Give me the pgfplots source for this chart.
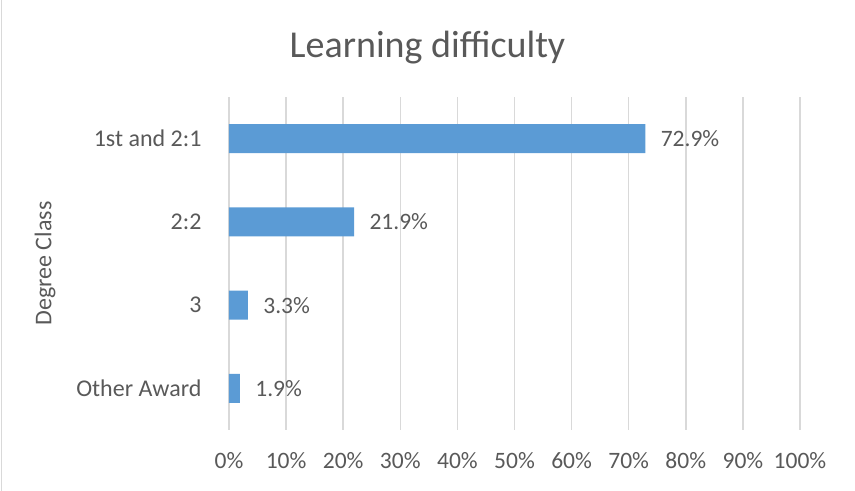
\documentclass[border=0pt]{standalone}
\usepackage{pgfplots}
\pgfplotsset{compat=1.18}
\usepackage{fontspec}
\setmainfont{Carlito}
\definecolor{barblue}{HTML}{5B9BD5}
\definecolor{txt}{HTML}{595959}
\definecolor{gridc}{HTML}{D9D9D9}
\begin{document}
\begin{tikzpicture}
\begin{axis}[
  scale only axis,
  width=571pt, height=333pt,
  xbar, bar width=29pt,
  xmin=0, xmax=100, ymin=-0.5, ymax=3.5,
  xtick={0,10,...,100},
  ytick={0,1,2,3},
  yticklabels={Other Award,3,2:2,1st and 2:1},
  xticklabel={\pgfmathprintnumber{\tick}\%},
  /pgf/number format/assume math mode=true,
  tick label style={font=\fontsize{23.5}{28}\selectfont, text=txt},
  yticklabel style={font=\fontsize{24}{28}\selectfont, xshift=-24pt},
  xticklabel style={yshift=-19pt},
  major tick length=0pt,
  xmajorgrids=true, ymajorgrids=false,
  x grid style={draw=gridc, line width=1.5pt},
  axis line style={draw=none},
  ylabel={Degree Class},
  every axis y label/.style={at={(rel axis cs:0,0.5)}, xshift=-184pt, rotate=90, anchor=center, font=\fontsize{24}{28}\selectfont, text=txt},
  nodes near coords={\pgfmathprintnumber[fixed,precision=1,fixed zerofill]{\pgfplotspointmeta}\%},
  nodes near coords style={font=\fontsize{23.5}{28}\selectfont, text=txt, anchor=west, xshift=12pt},
  clip=false,
]
\addplot[fill=barblue, draw=none] coordinates {(1.9,0) (3.3,1) (21.9,2) (72.9,3)};
\coordinate (bl) at (rel axis cs:0,0);
\coordinate (tr) at (rel axis cs:1,1);
\end{axis}
\path[use as bounding box] ([shift={(-229pt,-61pt)}]bl) rectangle ([shift={(55pt,97pt)}]tr);
\draw[gridc, line width=1.5pt] ([shift={(-227.5pt,-61pt)}]bl) -- ([shift={(-227.5pt,97pt)}]bl |- tr);
\node[font=\fontsize{38}{44}\selectfont, text=txt] at ([shift={(-229pt+427.5pt,49pt)}]bl |- tr) {Learning difficulty};
\end{tikzpicture}
\end{document}
